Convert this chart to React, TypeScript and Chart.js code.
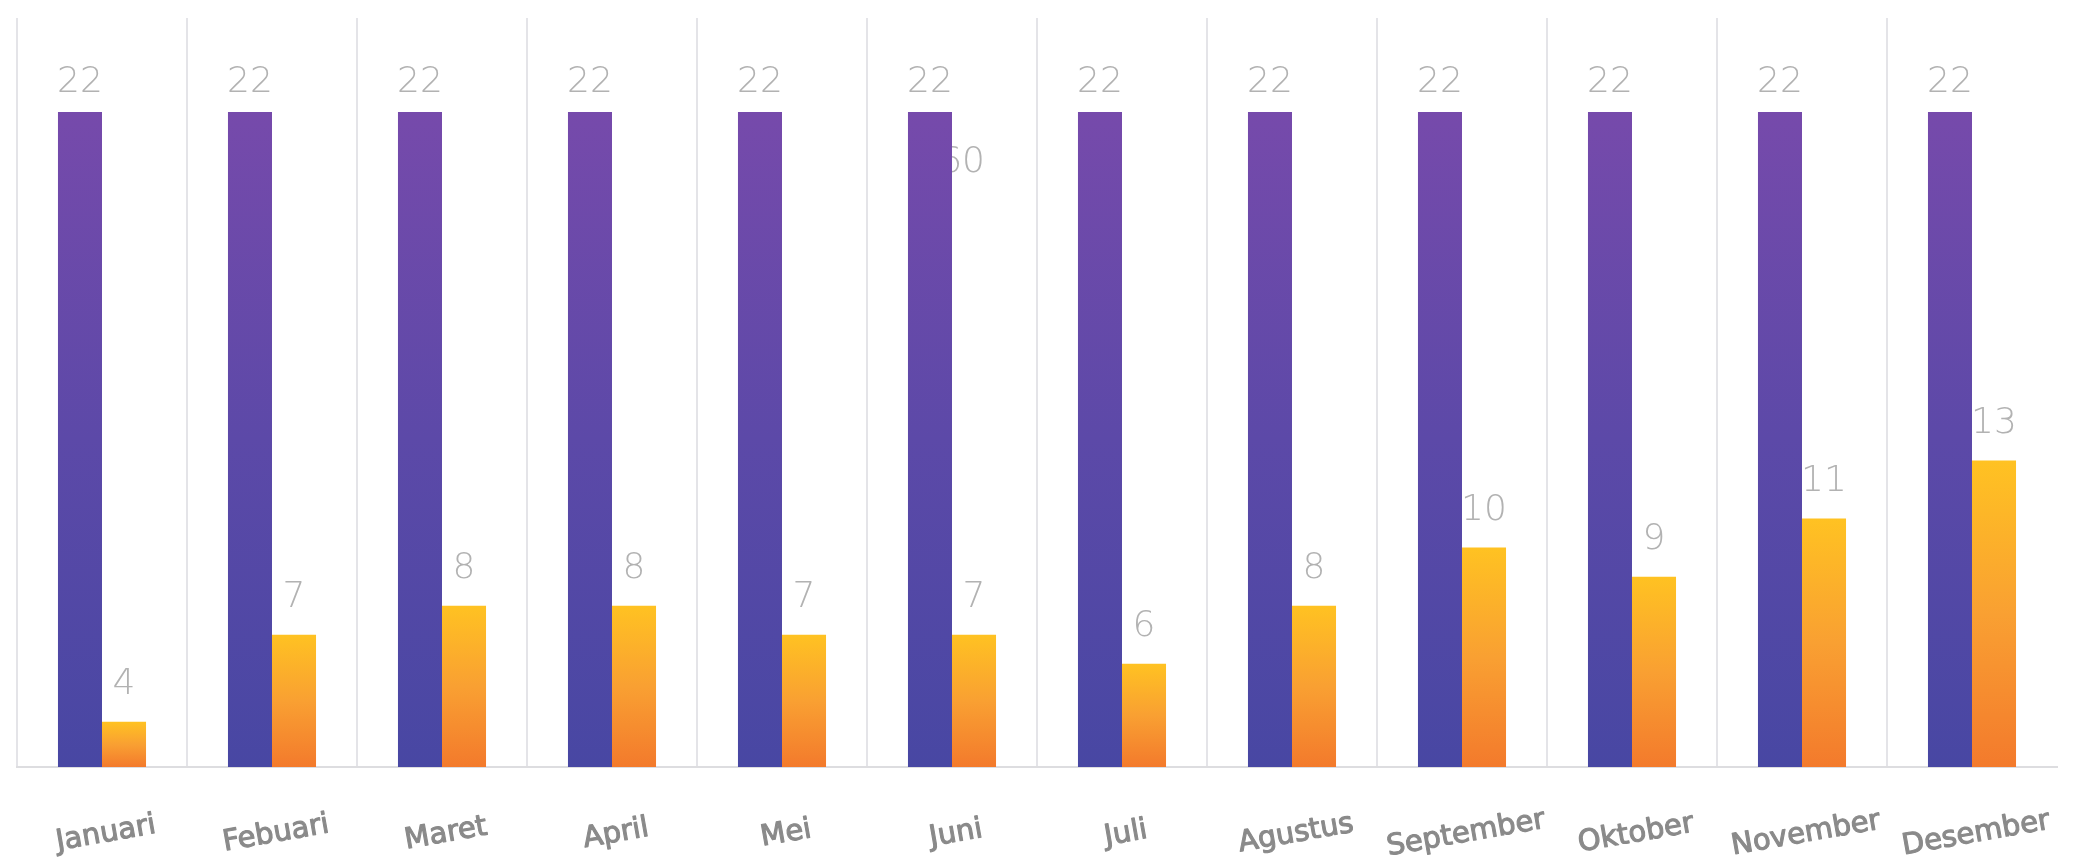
import React, { useEffect, useRef } from "react";
import { Chart, registerables } from "chart.js";

Chart.register(...registerables);

const months = [
  "Januari", "Febuari", "Maret", "April", "Mei", "Juni",
  "Juli", "Agustus", "September", "Oktober", "November", "Desember",
];
const targetValues = [22, 22, 22, 22, 22, 22, 22, 22, 22, 22, 22, 22];
const actualValues = [4, 7, 8, 8, 7, 7, 6, 8, 10, 9, 11, 13];
const strayLabelText = "760";
const strayLabelMonth = "Juni";
const strayLabelValue = 20;

const W = 2093;
const H = 865;

export default function App() {
  const ref = useRef<HTMLCanvasElement | null>(null);

  useEffect(() => {
    const canvas = ref.current;
    if (!canvas) return;

    const purpleFill = (c: any) => {
      const chart = c.chart;
      if (!chart.chartArea || c.type !== "data") return "#5a48a6";
      const s = chart.scales.y;
      const top = s.getPixelForValue(c.raw);
      const bottom = s.getPixelForValue(0);
      const g = chart.ctx.createLinearGradient(0, top, 0, bottom);
      g.addColorStop(0, "#764aab");
      g.addColorStop(0.5, "#5c49a8");
      g.addColorStop(1, "#4847a3");
      return g;
    };
    const orangeFill = (c: any) => {
      const chart = c.chart;
      if (!chart.chartArea || c.type !== "data") return "#f8a030";
      const s = chart.scales.y2;
      const top = s.getPixelForValue(c.raw);
      const bottom = chart.chartArea.bottom;
      const g = chart.ctx.createLinearGradient(0, top, 0, bottom);
      g.addColorStop(0, "#ffc222");
      g.addColorStop(0.5, "#f9a032");
      g.addColorStop(1, "#f37a2c");
      return g;
    };

    const valueLabels = {
      id: "valueLabels",
      afterDatasetsDraw(chart: any) {
        const ctx = chart.ctx;
        ctx.save();
        ctx.font = "300 36px 'DejaVu Sans'";
        ctx.fillStyle = "#b2b2b2";
        ctx.textAlign = "center";
        ctx.textBaseline = "alphabetic";
        chart.data.datasets.forEach((ds: any, di: number) => {
          const meta = chart.getDatasetMeta(di);
          const gap = di === 0 ? 20 : 28;
          meta.data.forEach((el: any, i: number) => {
            ctx.fillText(String(ds.data[i]), el.x, el.y - gap);
          });
        });
        ctx.restore();
      },
    };

    const strayLabel = {
      id: "strayLabel",
      beforeDatasetsDraw(chart: any) {
        const ctx = chart.ctx;
        const idx = months.indexOf(strayLabelMonth);
        const x = chart.scales.x.getPixelForValue(idx) + 33;
        const y = chart.scales.y.getPixelForValue(strayLabelValue);
        ctx.save();
        ctx.font = "300 36px 'DejaVu Sans'";
        ctx.fillStyle = "#b2b2b2";
        ctx.textAlign = "right";
        ctx.textBaseline = "alphabetic";
        ctx.fillText(strayLabelText, x, y);
        ctx.restore();
      },
    };

    const monthLabels = {
      id: "monthLabels",
      afterDraw(chart: any) {
        const ctx = chart.ctx;
        const xs = chart.scales.x;
        const base = chart.chartArea.bottom;
        ctx.save();
        ctx.font = "29px 'DejaVu Sans'";
        ctx.fillStyle = "#8a8a8a";
        ctx.strokeStyle = "#8a8a8a";
        ctx.lineWidth = 1.1;
        ctx.lineJoin = "round";
        ctx.textAlign = "center";
        ctx.textBaseline = "middle";
        months.forEach((m, i) => {
          const x = xs.getPixelForValue(i) + 4;
          ctx.save();
          ctx.translate(x, base + 67);
          ctx.rotate((-10 * Math.PI) / 180);
          ctx.fillText(m, 0, 0);
          ctx.strokeText(m, 0, 0);
          ctx.restore();
        });
        ctx.restore();
      },
    };

    const chart = new Chart(canvas, {
      type: "bar",
      data: {
        labels: months,
        datasets: [
          {
            label: "Target",
            data: targetValues,
            yAxisID: "y",
            backgroundColor: purpleFill,
            borderWidth: 0,
            categoryPercentage: 0.518,
            barPercentage: 1,
          },
          {
            label: "Realisasi",
            data: actualValues,
            yAxisID: "y2",
            backgroundColor: orangeFill,
            borderWidth: 0,
            categoryPercentage: 0.518,
            barPercentage: 1,
          },
        ],
      },
      options: {
        responsive: false,
        animation: false,
        layout: { padding: { left: 17, right: 36, top: 18, bottom: 98 } },
        plugins: {
          legend: { display: false },
          tooltip: { enabled: false },
        },
        scales: {
          x: {
            grid: {
              display: true,
              offset: true,
              drawTicks: false,
              lineWidth: 2,
              color: (c: any) => (c.type === "tick" ? "#e4e4e8" : "rgba(0,0,0,0)"),
            },
            border: { display: true, color: "#dddde0", width: 2 },
            ticks: { display: false },
          },
          y: {
            display: false,
            min: 0,
            max: 25.16,
          },
          y2: {
            display: false,
            min: 2.44,
            max: 28.25,
          },
        },
      },
      plugins: [strayLabel, valueLabels, monthLabels],
    });

    return () => chart.destroy();
  }, []);

  return (
    <div style={{ position: "fixed", left: 0, top: 0, width: W, height: H, background: "#ffffff" }}>
      <canvas ref={ref} width={W} height={H} style={{ display: "block", width: W, height: H }} />
    </div>
  );
}
